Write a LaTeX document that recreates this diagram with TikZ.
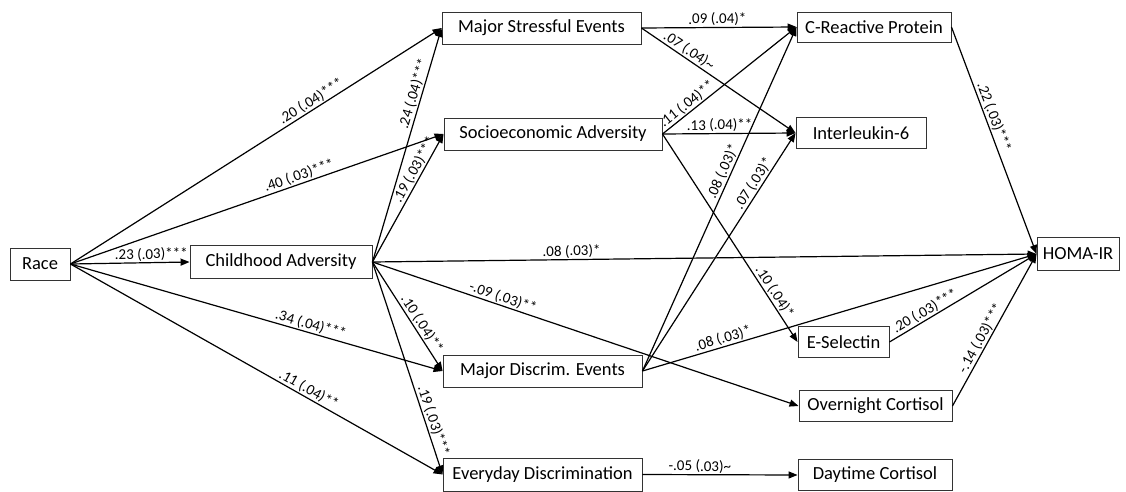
\documentclass[tikz,border=0pt]{standalone}
\usepackage{fontspec}
\setmainfont{Carlito}
\usetikzlibrary{arrows.meta}
\tikzset{
  box/.style={draw=black!80, line width=0.9pt, inner sep=0pt, align=center, font=\fontsize{18.5}{21}\selectfont},
  arr/.style={line width=1.2pt, -{Triangle[length=9pt,width=7pt]}},
  lab/.style={sloped, above, inner sep=1pt, font=\fontsize{15}{17}\selectfont}
}
\begin{document}
\begin{tikzpicture}[x=1pt,y=-1pt]
\useasboundingbox (0,0) rectangle (1126,492);
\node[box, minimum width=60pt, minimum height=32pt] (race) at (40,264) {Race};
\node[box, minimum width=182pt, minimum height=33pt] (ca) at (281,262) {Childhood Adversity};
\node[box, minimum width=199pt, minimum height=32pt] (mse) at (541.5,28) {Major Stressful Events};
\node[box, minimum width=218pt, minimum height=32pt] (sa) at (553,134) {Socioeconomic Adversity};
\node[box, minimum width=199pt, minimum height=32pt] (mde) at (542.5,371) {Major Discrim. Events};
\node[box, minimum width=199pt, minimum height=33pt] (ed) at (542.5,474.5) {Everyday Discrimination};
\node[box, minimum width=154pt, minimum height=30pt] (crp) at (874,27) {C-Reactive Protein};
\node[box, minimum width=130pt, minimum height=31pt] (il6) at (861,133) {Interleukin-6};
\node[box, minimum width=91pt, minimum height=31pt] (es) at (843.5,342) {E-Selectin};
\node[box, minimum width=153pt, minimum height=31pt] (oc) at (875.5,406) {Overnight Cortisol};
\node[box, minimum width=154pt, minimum height=31pt] (dc) at (875,475) {Daytime Cortisol};
\node[box, minimum width=82pt, minimum height=33pt] (homa) at (1078,254) {HOMA-IR};

\draw[arr] (race.east) -- node[lab, pos=0.66] {.20 (.04)***} (mse.west);
\draw[arr] (race.east) -- node[lab, pos=0.62] {.40 (.03)***} (sa.west);
\draw[arr] (race.east) -- node[lab, pos=0.68] {.23 (.03)***} (ca.west);
\draw[arr] (race.east) -- node[lab, pos=0.64] {.34 (.04)***} (mde.west);
\draw[arr] (race.east) -- node[lab, pos=0.63] {.11 (.04)**} (ed.west);

\draw[arr] (ca.east) -- node[lab, pos=0.71] {.24 (.04)***} (mse.west);
\draw[arr] (ca.east) -- node[lab, pos=0.69] {.19 (.03)***} (sa.west);
\draw[arr] (ca.east) -- node[lab, pos=0.30] {.08 (.03)*} (homa.west);
\draw[arr] (ca.east) -- node[lab, pos=0.30] {-.09 (.03)**} (oc.west);
\draw[arr] (ca.east) -- node[lab, pos=0.61] {.10 (.04)**} (mde.west);
\draw[arr] (ca.east) -- node[lab, pos=0.76] {.19 (.03)***} (ed.west);

\draw[arr] (mse.east) -- node[lab, pos=0.49] {.09 (.04)*} (crp.west);
\draw[arr] (mse.east) -- node[lab, pos=0.28] {.07 (.04)\textasciitilde} (il6.west);
\draw[arr] (sa.east) -- node[lab, pos=0.22] {.11 (.04)**} (crp.west);
\draw[arr] (sa.east) -- node[lab, pos=0.43] {.13 (.04)**} (il6.west);
\draw[arr] (sa.east) -- node[lab, pos=0.78] {.10 (.04)*} (es.west);
\draw[arr] (mde.east) -- node[lab, pos=0.57] {.08 (.03)*} (crp.west);
\draw[arr] (mde.east) -- node[lab, pos=0.77] {.07 (.03)*} (il6.west);
\draw[arr] (mde.east) -- node[lab, pos=0.21] {.08 (.03)*} (homa.west);

\draw[arr] (crp.east) -- node[lab, pos=0.41] {.22 (.03)***} (homa.west);
\draw[arr] (es.east) -- node[lab, pos=0.27] {.20 (.03)***} (homa.west);
\draw[arr] (oc.east) -- node[lab, pos=0.42] {-.14 (.03)***} (homa.west);
\draw[arr] (ed.east) -- node[lab, pos=0.37] {-.05 (.03)\textasciitilde} (dc.west);
\end{tikzpicture}
\end{document}
